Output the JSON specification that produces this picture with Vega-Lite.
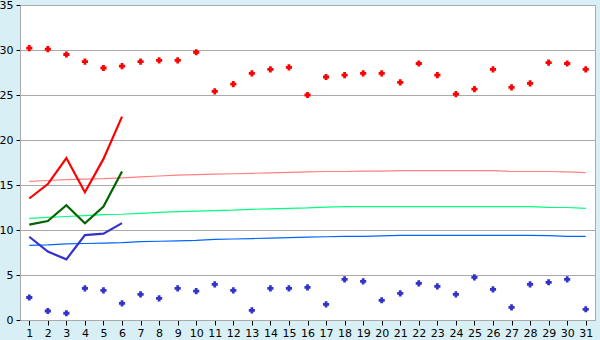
{
  "$schema": "https://vega.github.io/schema/vega-lite/v6.json",
  "width": 575,
  "height": 315,
  "autosize": {"type": "none"},
  "padding": {"left": 20, "top": 5, "right": 5, "bottom": 20},
  "background": "#d9eff6",
  "config": {
    "view": {"fill": "white", "stroke": "#aaaaaa", "strokeWidth": 1},
    "axis": {"labelFont": "DejaVu Sans", "labelFontSize": 11, "labelColor": "black", "tickColor": "black", "domainColor": "#aaaaaa", "gridColor": "#aaaaaa", "gridOpacity": 1, "title": null}
  },
  "datasets": {
    "norm": [
      {"day":1,"s":"nmax","t":15.4},{"day":2,"s":"nmax","t":15.5},{"day":3,"s":"nmax","t":15.6},{"day":4,"s":"nmax","t":15.65},{"day":5,"s":"nmax","t":15.7},{"day":6,"s":"nmax","t":15.8},{"day":7,"s":"nmax","t":15.9},{"day":8,"s":"nmax","t":16.0},{"day":9,"s":"nmax","t":16.1},{"day":10,"s":"nmax","t":16.15},{"day":11,"s":"nmax","t":16.2},{"day":12,"s":"nmax","t":16.25},{"day":13,"s":"nmax","t":16.3},{"day":14,"s":"nmax","t":16.35},{"day":15,"s":"nmax","t":16.4},{"day":16,"s":"nmax","t":16.45},{"day":17,"s":"nmax","t":16.5},{"day":18,"s":"nmax","t":16.5},{"day":19,"s":"nmax","t":16.55},{"day":20,"s":"nmax","t":16.55},{"day":21,"s":"nmax","t":16.6},{"day":22,"s":"nmax","t":16.6},{"day":23,"s":"nmax","t":16.6},{"day":24,"s":"nmax","t":16.6},{"day":25,"s":"nmax","t":16.6},{"day":26,"s":"nmax","t":16.6},{"day":27,"s":"nmax","t":16.5},{"day":28,"s":"nmax","t":16.5},{"day":29,"s":"nmax","t":16.5},{"day":30,"s":"nmax","t":16.45},{"day":31,"s":"nmax","t":16.37},
      {"day":1,"s":"navg","t":11.3},{"day":2,"s":"navg","t":11.4},{"day":3,"s":"navg","t":11.5},{"day":4,"s":"navg","t":11.6},{"day":5,"s":"navg","t":11.7},{"day":6,"s":"navg","t":11.75},{"day":7,"s":"navg","t":11.85},{"day":8,"s":"navg","t":11.95},{"day":9,"s":"navg","t":12.05},{"day":10,"s":"navg","t":12.1},{"day":11,"s":"navg","t":12.15},{"day":12,"s":"navg","t":12.2},{"day":13,"s":"navg","t":12.3},{"day":14,"s":"navg","t":12.35},{"day":15,"s":"navg","t":12.4},{"day":16,"s":"navg","t":12.45},{"day":17,"s":"navg","t":12.55},{"day":18,"s":"navg","t":12.6},{"day":19,"s":"navg","t":12.6},{"day":20,"s":"navg","t":12.6},{"day":21,"s":"navg","t":12.6},{"day":22,"s":"navg","t":12.6},{"day":23,"s":"navg","t":12.6},{"day":24,"s":"navg","t":12.6},{"day":25,"s":"navg","t":12.6},{"day":26,"s":"navg","t":12.6},{"day":27,"s":"navg","t":12.6},{"day":28,"s":"navg","t":12.6},{"day":29,"s":"navg","t":12.52},{"day":30,"s":"navg","t":12.5},{"day":31,"s":"navg","t":12.4},
      {"day":1,"s":"nmin","t":8.3},{"day":2,"s":"nmin","t":8.35},{"day":3,"s":"nmin","t":8.45},{"day":4,"s":"nmin","t":8.5},{"day":5,"s":"nmin","t":8.55},{"day":6,"s":"nmin","t":8.6},{"day":7,"s":"nmin","t":8.7},{"day":8,"s":"nmin","t":8.75},{"day":9,"s":"nmin","t":8.8},{"day":10,"s":"nmin","t":8.85},{"day":11,"s":"nmin","t":8.95},{"day":12,"s":"nmin","t":9.0},{"day":13,"s":"nmin","t":9.05},{"day":14,"s":"nmin","t":9.1},{"day":15,"s":"nmin","t":9.15},{"day":16,"s":"nmin","t":9.2},{"day":17,"s":"nmin","t":9.25},{"day":18,"s":"nmin","t":9.3},{"day":19,"s":"nmin","t":9.3},{"day":20,"s":"nmin","t":9.35},{"day":21,"s":"nmin","t":9.4},{"day":22,"s":"nmin","t":9.4},{"day":23,"s":"nmin","t":9.4},{"day":24,"s":"nmin","t":9.4},{"day":25,"s":"nmin","t":9.4},{"day":26,"s":"nmin","t":9.4},{"day":27,"s":"nmin","t":9.4},{"day":28,"s":"nmin","t":9.4},{"day":29,"s":"nmin","t":9.38},{"day":30,"s":"nmin","t":9.3},{"day":31,"s":"nmin","t":9.3}
    ],
    "cur": [
      {"day":1,"s":"max","t":13.5},{"day":2,"s":"max","t":15.1},{"day":3,"s":"max","t":18.0},{"day":4,"s":"max","t":14.2},{"day":5,"s":"max","t":17.9},{"day":6,"s":"max","t":22.6},
      {"day":1,"s":"avg","t":10.6},{"day":2,"s":"avg","t":11.0},{"day":3,"s":"avg","t":12.75},{"day":4,"s":"avg","t":10.75},{"day":5,"s":"avg","t":12.6},{"day":6,"s":"avg","t":16.5},
      {"day":1,"s":"min","t":9.25},{"day":2,"s":"min","t":7.6},{"day":3,"s":"min","t":6.74},{"day":4,"s":"min","t":9.44},{"day":5,"s":"min","t":9.6},{"day":6,"s":"min","t":10.76}
    ],
    "pts": [
      {"day":1,"s":"pmax","t":30.2},{"day":2,"s":"pmax","t":30.1},{"day":3,"s":"pmax","t":29.5},{"day":4,"s":"pmax","t":28.7},{"day":5,"s":"pmax","t":28.0},{"day":6,"s":"pmax","t":28.2},{"day":7,"s":"pmax","t":28.7},{"day":8,"s":"pmax","t":28.85},{"day":9,"s":"pmax","t":28.85},{"day":10,"s":"pmax","t":29.75},{"day":11,"s":"pmax","t":25.4},{"day":12,"s":"pmax","t":26.2},{"day":13,"s":"pmax","t":27.4},{"day":14,"s":"pmax","t":27.85},{"day":15,"s":"pmax","t":28.07},{"day":16,"s":"pmax","t":25.0},{"day":17,"s":"pmax","t":27.0},{"day":18,"s":"pmax","t":27.2},{"day":19,"s":"pmax","t":27.4},{"day":20,"s":"pmax","t":27.4},{"day":21,"s":"pmax","t":26.4},{"day":22,"s":"pmax","t":28.5},{"day":23,"s":"pmax","t":27.2},{"day":24,"s":"pmax","t":25.1},{"day":25,"s":"pmax","t":25.65},{"day":26,"s":"pmax","t":27.85},{"day":27,"s":"pmax","t":25.85},{"day":28,"s":"pmax","t":26.3},{"day":29,"s":"pmax","t":28.6},{"day":30,"s":"pmax","t":28.5},{"day":31,"s":"pmax","t":27.85},
      {"day":1,"s":"pmin","t":2.5},{"day":2,"s":"pmin","t":1.0},{"day":3,"s":"pmin","t":0.75},{"day":4,"s":"pmin","t":3.52},{"day":5,"s":"pmin","t":3.3},{"day":6,"s":"pmin","t":1.85},{"day":7,"s":"pmin","t":2.85},{"day":8,"s":"pmin","t":2.4},{"day":9,"s":"pmin","t":3.52},{"day":10,"s":"pmin","t":3.2},{"day":11,"s":"pmin","t":3.96},{"day":12,"s":"pmin","t":3.3},{"day":13,"s":"pmin","t":1.07},{"day":14,"s":"pmin","t":3.52},{"day":15,"s":"pmin","t":3.52},{"day":16,"s":"pmin","t":3.63},{"day":17,"s":"pmin","t":1.74},{"day":18,"s":"pmin","t":4.52},{"day":19,"s":"pmin","t":4.3},{"day":20,"s":"pmin","t":2.19},{"day":21,"s":"pmin","t":2.96},{"day":22,"s":"pmin","t":4.07},{"day":23,"s":"pmin","t":3.74},{"day":24,"s":"pmin","t":2.85},{"day":25,"s":"pmin","t":4.74},{"day":26,"s":"pmin","t":3.41},{"day":27,"s":"pmin","t":1.41},{"day":28,"s":"pmin","t":3.96},{"day":29,"s":"pmin","t":4.19},{"day":30,"s":"pmin","t":4.52},{"day":31,"s":"pmin","t":1.19}
    ]
  },
  "encoding": {
    "x": {"field": "day", "type": "quantitative", "scale": {"domain": [0.5, 31.5], "nice": false, "zero": false},
      "axis": {"values": [1,2,3,4,5,6,7,8,9,10,11,12,13,14,15,16,17,18,19,20,21,22,23,24,25,26,27,28,29,30,31], "format": "d", "grid": false, "tickSize": 5, "labelPadding": 2, "labelFlush": false, "labelOverlap": false}},
    "y": {"field": "t", "type": "quantitative", "scale": {"domain": [0, 35], "nice": false},
      "axis": {"values": [0,5,10,15,20,25,30,35], "grid": true, "tickSize": 4, "labelPadding": 3, "labelFlush": false}}
  },
  "layer": [
    {
      "data": {"name": "norm"},
      "mark": {"type": "line", "strokeWidth": 1.2},
      "encoding": {"color": {"field": "s", "type": "nominal", "legend": null,
        "scale": {"domain": ["nmax","navg","nmin"], "range": ["#ff8080","#00ff7f","#0066ff"]}}}
    },
    {
      "data": {"name": "cur"},
      "mark": {"type": "line", "strokeWidth": 2.2},
      "encoding": {"color": {"field": "s", "type": "nominal", "legend": null,
        "scale": {"domain": ["max","avg","min"], "range": ["#ff0000","#006400","#3333cc"]}}}
    },
    {
      "data": {"name": "pts"},
      "mark": {"type": "point", "shape": "M-0.45,-1L0.45,-1L0.45,-0.45L1,-0.45L1,0.45L0.45,0.45L0.45,1L-0.45,1L-0.45,0.45L-1,0.45L-1,-0.45L-0.45,-0.45Z", "filled": true, "size": 38, "opacity": 1},
      "encoding": {"color": {"field": "s", "type": "nominal", "legend": null,
        "scale": {"domain": ["pmax","pmin"], "range": ["#ff0000","#3333cc"]}}}
    }
  ],
  "resolve": {"scale": {"color": "independent"}}
}
